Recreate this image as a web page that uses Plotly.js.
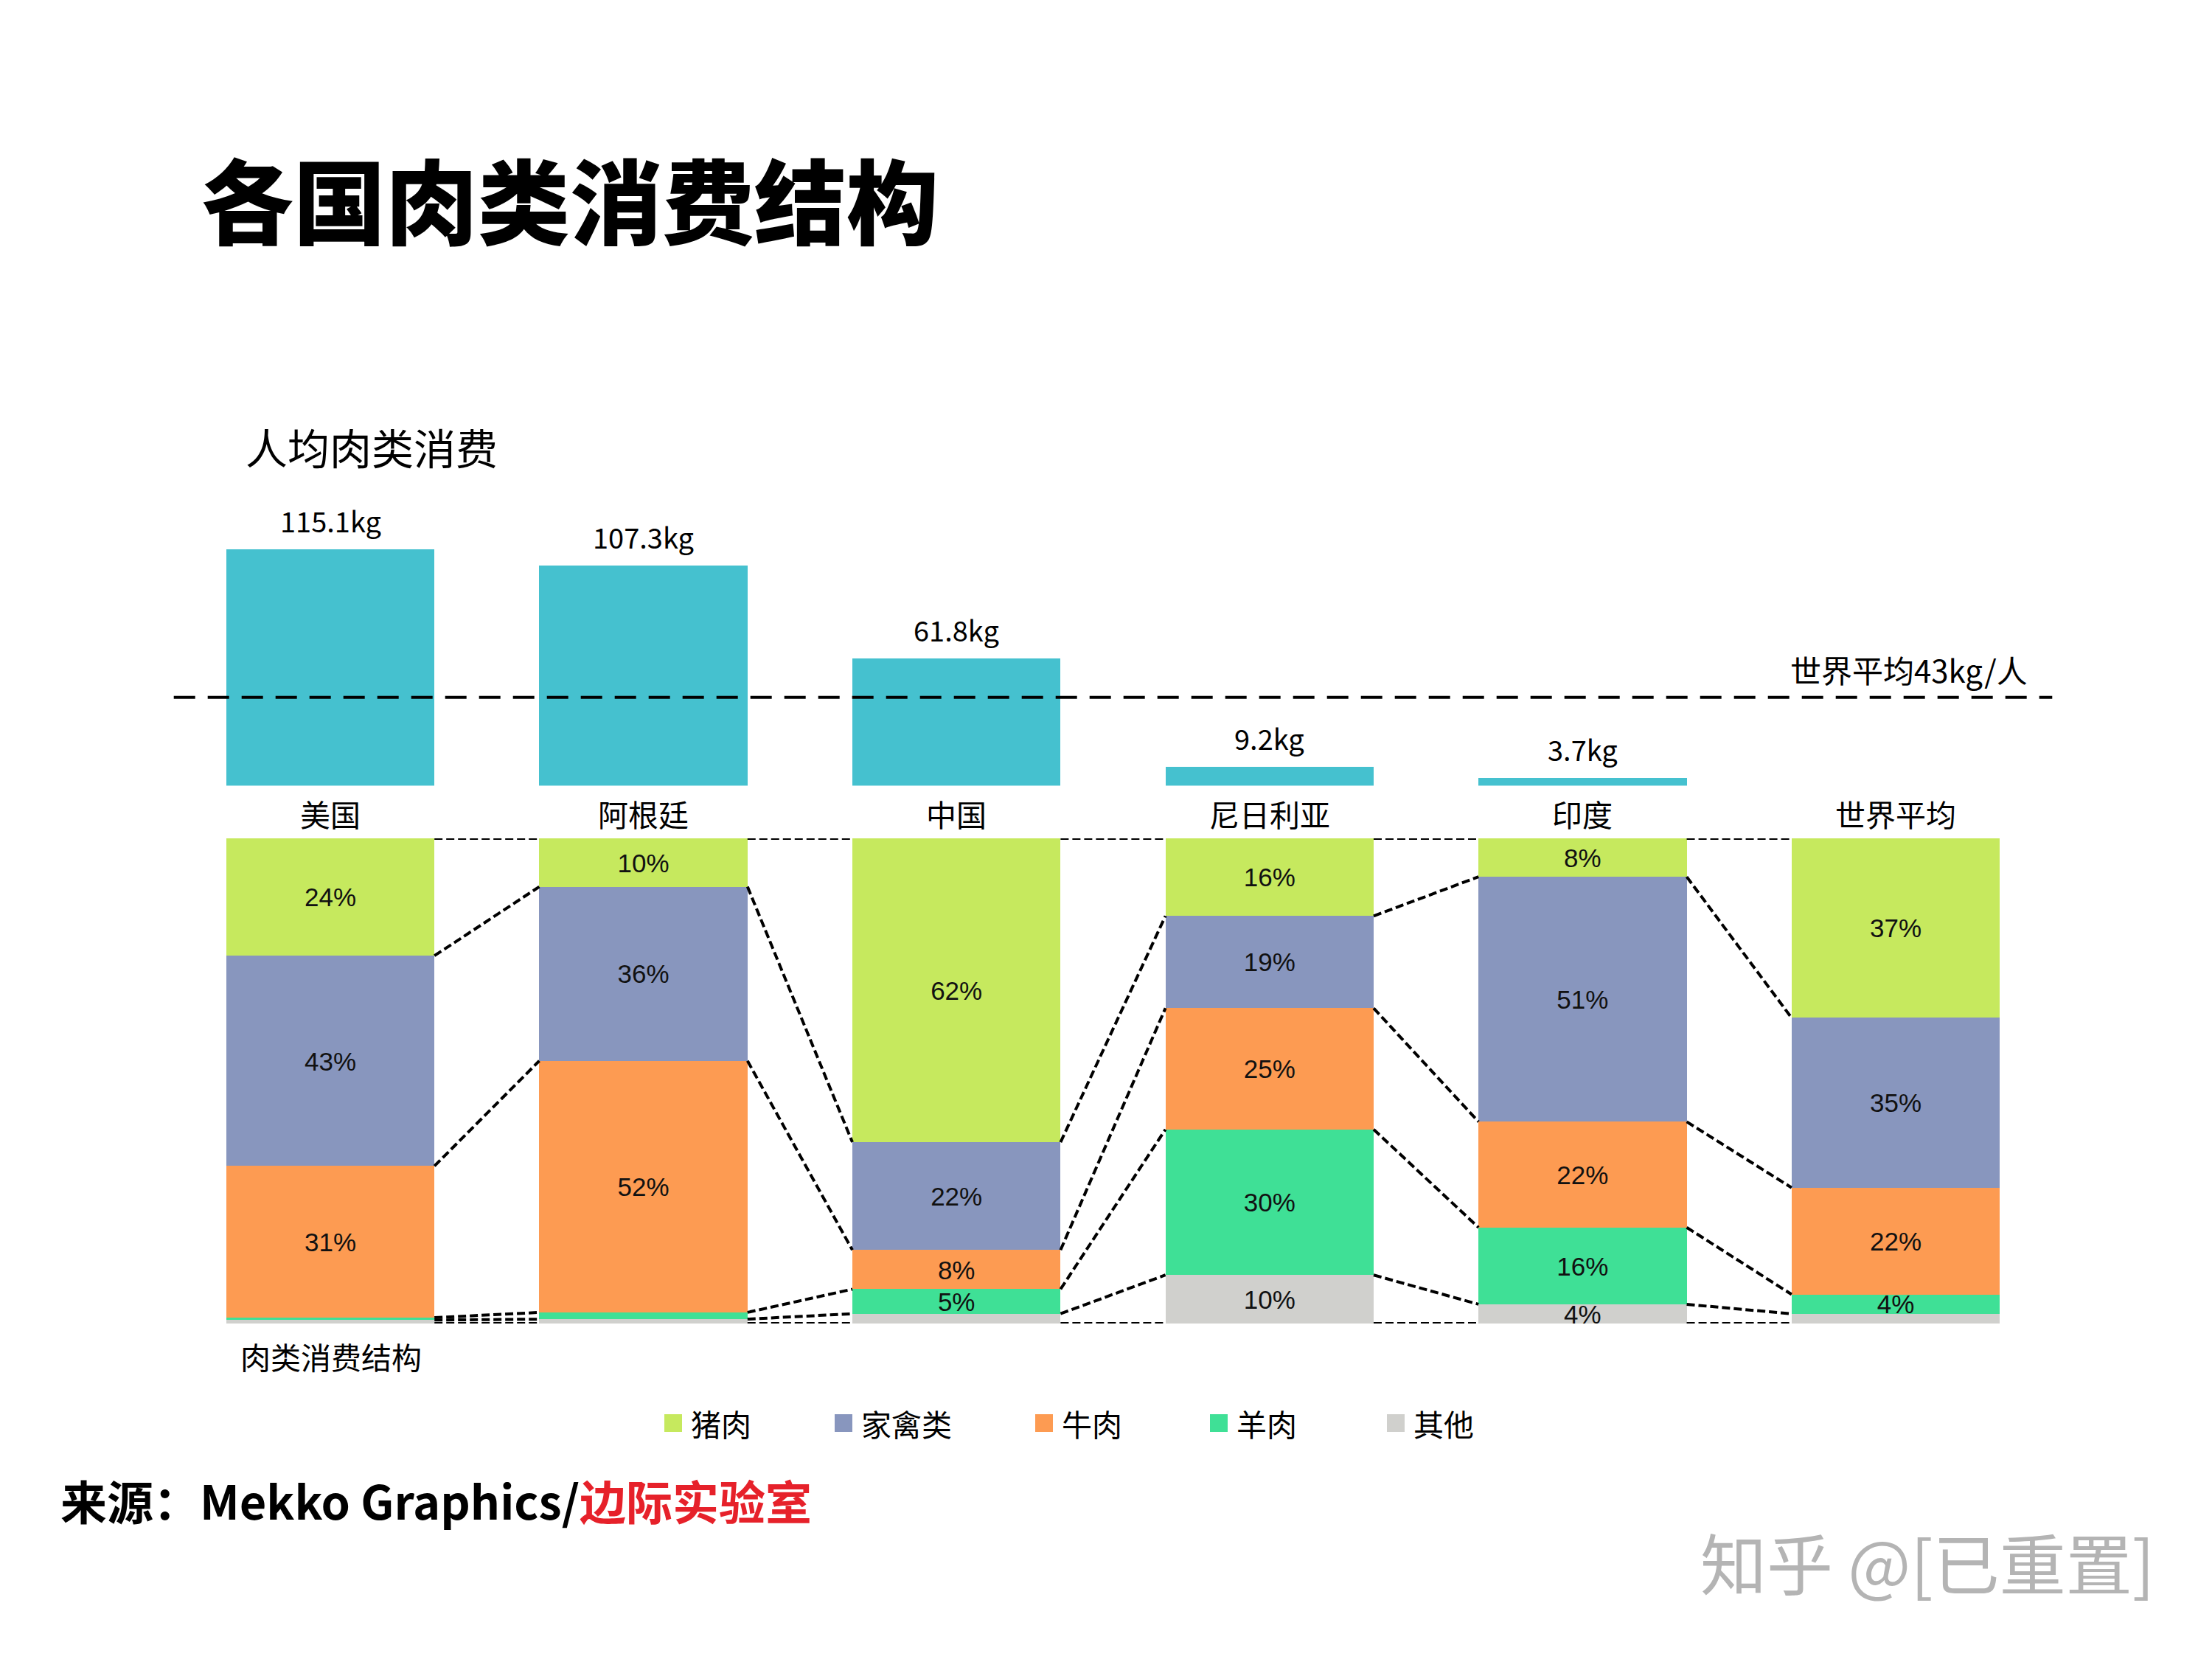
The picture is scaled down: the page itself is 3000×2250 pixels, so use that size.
<!DOCTYPE html>
<html><head><meta charset="utf-8">
<script src="https://cdn.plot.ly/plotly-3.0.1.min.js"></script>
<style>html,body{margin:0;padding:0;background:#fff;} #chart{width:3000px;height:2250px;}</style>
</head><body><div id="chart"></div>
<script>
// ---------- data ----------
const countries = ['美国', '阿根廷', '中国', '尼日利亚', '印度', '世界平均'];
const perCapitaKg = [115.1, 107.3, 61.8, 9.2, 3.7, null];
const worldAvgKg = 43;
const worldAvgLabel = '世界平均43kg/人';
const meatTypes = ['猪肉', '家禽类', '牛肉', '羊肉', '其他'];
const pork    = [24, 10, 62, 16, 8, 37];
const poultry = [43, 36, 22, 19, 51, 35];
const beef    = [31, 52, 8, 25, 22, 22];
const lamb    = [0.5, 1.4, 5, 30, 16, 4];
const other   = [0.7, 0.9, 2, 10, 4, 2];

// ---------- styles ----------
const FONT = "'Noto Sans CJK SC', 'Noto Sans', sans-serif";
const NUMFONT = "'Liberation Sans', Arial, sans-serif";
const barColor = '#45C1CF';
const meatColors = ['#C6E95E', '#8896BE', '#FD9B52', '#3FE096', '#D0D0CD'];
const BAR_W = 0.665;
const LABEL_NUDGE = -0.6; // small visual nudge of segment labels (in % units)

const xs = countries.map((_, i) => i);
const series = [pork, poultry, beef, lamb, other];          // legend order
const stackOrder = [4, 3, 2, 1, 0];                          // bottom -> top: other, lamb, beef, poultry, pork
const totals = xs.map(i => series.reduce((s, a) => s + a[i], 0));
const norm = series.map(a => a.map((v, i) => v / totals[i] * 100));

const traces = [];
// top: per-capita consumption bars
traces.push({
  type: 'bar', x: xs, y: perCapitaKg, width: BAR_W, xaxis: 'x', yaxis: 'y',
  marker: {color: barColor}, showlegend: false, hoverinfo: 'skip'
});
// world average dashed line
traces.push({
  type: 'scatter', mode: 'lines', x: [-0.5, 5.5], y: [worldAvgKg, worldAvgKg],
  xaxis: 'x', yaxis: 'y', line: {color: '#000', width: 4, dash: '29px,17px'},
  showlegend: false, hoverinfo: 'skip'
});
// bottom: stacked structure
stackOrder.forEach(k => {
  traces.push({
    type: 'bar', name: meatTypes[k], x: xs, y: norm[k], width: BAR_W,
    xaxis: 'x2', yaxis: 'y2', marker: {color: meatColors[k], line: {width: 0}},
    showlegend: false, hoverinfo: 'skip'
  });
});
// connectors between columns
const cum = xs.map(i => {
  const c = [0];
  let s = 0;
  stackOrder.forEach(k => { s += norm[k][i]; c.push(s); });
  return c;
});
const cx = [], cy = [];
for (let i = 0; i < xs.length - 1; i++) {
  for (let b = 0; b < cum[i].length; b++) {
    cx.push(xs[i] + BAR_W / 2, xs[i + 1] - BAR_W / 2, null);
    cy.push(cum[i][b], cum[i + 1][b], null);
  }
}
traces.push({
  type: 'scatter', mode: 'lines', x: cx, y: cy, xaxis: 'x2', yaxis: 'y2',
  line: {color: '#000', width: 4, dash: '11px,5px'}, connectgaps: false,
  showlegend: false, hoverinfo: 'skip'
});
// segment labels
const lx = [], ly = [], lt = [];
xs.forEach(i => {
  let s = 0;
  stackOrder.forEach(k => {
    const v = series[k][i];
    lx.push(i); ly.push(s + norm[k][i] / 2 + LABEL_NUDGE);
    lt.push(v >= 3 ? Math.round(v) + '%' : '');
    s += norm[k][i];
  });
});
traces.push({
  type: 'scatter', mode: 'text', x: lx, y: ly, text: lt, xaxis: 'x2', yaxis: 'y2',
  textposition: 'middle center', textfont: {family: NUMFONT, size: 35, color: '#111'},
  showlegend: false, hoverinfo: 'skip', cliponaxis: false
});

// ---------- layout geometry ----------
const H = 2250, W = 3000;
const py = p => 1 - p / H;
const pxPerUnit = 424.6, x0px = 448;
const xr = [-x0px / pxPerUnit, -x0px / pxPerUnit + W / pxPerUnit];
const topBase = 1065.5, kgPx = 2.785, topTop = 650;

const annotations = [];
const shapes = [];
annotations.push({text: '人均肉类消费', xref: 'paper', yref: 'paper', x: 331 / W, y: py(605),
  xanchor: 'left', yanchor: 'middle', showarrow: false, font: {family: FONT, size: 57, color: '#000'}});
annotations.push({text: '肉类消费结构', xref: 'paper', yref: 'paper', x: 324 / W, y: py(1839),
  xanchor: 'left', yanchor: 'middle', showarrow: false, font: {family: FONT, size: 41, color: '#000'}});
annotations.push({text: worldAvgLabel, xref: 'paper', yref: 'paper', x: 2752 / W, y: py(907),
  xanchor: 'right', yanchor: 'middle', showarrow: false, font: {family: FONT, size: 42, color: '#000'}});
xs.forEach(i => {
  annotations.push({text: countries[i], xref: 'x', yref: 'paper', x: i, y: py(1103),
    xanchor: 'center', yanchor: 'middle', showarrow: false, font: {family: FONT, size: 41, color: '#000'}});
  if (perCapitaKg[i] != null) {
    annotations.push({text: perCapitaKg[i].toFixed(1) + 'kg', xref: 'x', yref: 'y', x: i, y: perCapitaKg[i],
      xanchor: 'center', yanchor: 'bottom', yshift: 10, showarrow: false,
      font: {family: FONT, size: 38, color: '#000'}});
  }
});
// legend (swatch + label per meat type)
const legendLeft = [901, 1132, 1404, 1641, 1881];
const legendY = 1930, sw = 24;
meatTypes.forEach((name, k) => {
  shapes.push({type: 'rect', xref: 'paper', yref: 'paper',
    x0: legendLeft[k] / W, x1: (legendLeft[k] + sw) / W,
    y0: py(legendY + sw / 2), y1: py(legendY - sw / 2),
    fillcolor: meatColors[k], line: {width: 0}});
  annotations.push({text: name, xref: 'paper', yref: 'paper', x: (legendLeft[k] + sw + 10) / W, y: py(legendY),
    xanchor: 'left', yanchor: 'middle', showarrow: false, font: {family: FONT, size: 41, color: '#000'}});
});
annotations.push({text: '来源：Mekko Graphics/<span style="color:#E6212A">边际实验室</span>',
  xref: 'paper', yref: 'paper', x: 80 / W, y: py(2033), xanchor: 'left', yanchor: 'middle', showarrow: false,
  font: {family: FONT, size: 63, color: '#000', weight: 'bold'}});
annotations.push({text: '知乎 @[已重置]', xref: 'paper', yref: 'paper', x: 2924 / W, y: py(2117),
  xanchor: 'right', yanchor: 'middle', showarrow: false, font: {family: FONT, size: 90, color: '#B4B4B4'}});

const hidden = {visible: false, showgrid: false, zeroline: false, fixedrange: true};
const layout = {
  width: W, height: H, margin: {l: 0, r: 0, t: 0, b: 0, pad: 0},
  paper_bgcolor: '#fff', plot_bgcolor: '#fff',
  font: {family: FONT, color: '#000'},
  title: {text: '各国肉类消费结构', x: 273 / W, xanchor: 'left', y: py(278), yanchor: 'middle',
    font: {family: FONT, size: 125, weight: 900, color: '#000'}},
  barmode: 'stack', bargap: 0,
  xaxis: Object.assign({domain: [0, 1], range: xr, anchor: 'y'}, hidden),
  yaxis: Object.assign({domain: [py(topBase), py(topTop)], range: [0, (topBase - topTop) / kgPx], anchor: 'x'}, hidden),
  xaxis2: Object.assign({domain: [0, 1], range: xr, anchor: 'y2'}, hidden),
  yaxis2: Object.assign({domain: [py(1795), py(1137)], range: [0, 100], anchor: 'x2'}, hidden),
  showlegend: false,
  shapes: shapes,
  annotations: annotations
};
Plotly.newPlot('chart', traces, layout, {staticPlot: true, displayModeBar: false});
</script>
</body></html>
